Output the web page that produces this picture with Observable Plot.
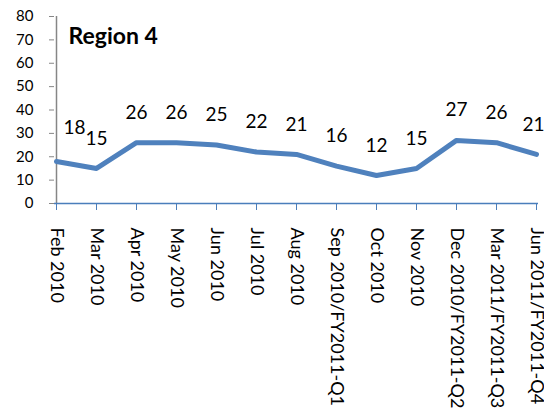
<!DOCTYPE html>
<html>
<head>
<meta charset="utf-8">
<script src="https://cdn.jsdelivr.net/npm/d3@7"></script>
<script src="https://cdn.jsdelivr.net/npm/@observablehq/plot@0.6"></script>
<style>
  html, body { margin: 0; padding: 0; background: #fff; }
  #chart svg { display: block; }
</style>
</head>
<body>
<div id="chart"></div>
<script>
// Monthly counts for Region 4
const title = "Region 4";
const periods = [
  "Feb 2010", "Mar 2010", "Apr 2010", "May 2010", "Jun 2010", "Jul 2010",
  "Aug 2010", "Sep 2010/FY2011-Q1", "Oct 2010", "Nov 2010",
  "Dec 2010/FY2011-Q2", "Mar 2011/FY2011-Q3", "Jun 2011/FY2011-Q4"
];
const counts = [18, 15, 26, 26, 25, 22, 21, 16, 12, 15, 27, 26, 21];
const yTicks = [0, 10, 20, 30, 40, 50, 60, 70, 80];

const data = periods.map((p, i) => ({period: p, value: counts[i]}));

const lineBlue = "#4F81BD";
const axisBlue = "#4A7EBB";
const axisGray = "#868686";

const chart = Plot.plot({
  width: 544,
  height: 409,
  marginLeft: 54,
  marginRight: 6,
  marginTop: 16,
  marginBottom: 206,
  style: {fontFamily: "Lato, sans-serif", color: "#000", background: "#fff"},
  x: {type: "point", domain: periods, padding: 0},
  y: {domain: [0, 80]},
  marks: [
    Plot.axisY({ticks: yTicks, tickSize: 5, tickPadding: 16, stroke: axisGray, fill: "#000", fontSize: 15, label: null}),
    Plot.ruleX([periods[0]], {y1: 0, y2: 80, stroke: axisGray, strokeWidth: 1.5}),
    Plot.axisX({tickSize: 7, tickPadding: 17, tickRotate: 90, stroke: axisBlue, fill: "#000", fontSize: 18, label: null}),
    Plot.ruleY([0], {stroke: axisBlue, strokeWidth: 1.5}),
    Plot.line(data, {x: "period", y: "value", stroke: lineBlue, strokeWidth: 5, strokeLinejoin: "round"}),
    Plot.text(data.slice(0, 1), {x: "period", y: "value", text: "value", dy: -34, dx: 18, fontSize: 19, fill: "#000"}),
    Plot.text(data.slice(1, -1), {x: "period", y: "value", text: "value", dy: -30, fontSize: 19, fill: "#000"}),
    Plot.text(data.slice(-1), {x: "period", y: "value", text: "value", dy: -30, dx: -3, fontSize: 19, fill: "#000"}),
    Plot.text([title], {frameAnchor: "top-left", dx: 14, dy: 11, fontSize: 23, fontWeight: "bold", textAnchor: "start", lineAnchor: "top", fill: "#000"})
  ]
});

document.getElementById("chart").append(chart);
</script>
</body>
</html>
